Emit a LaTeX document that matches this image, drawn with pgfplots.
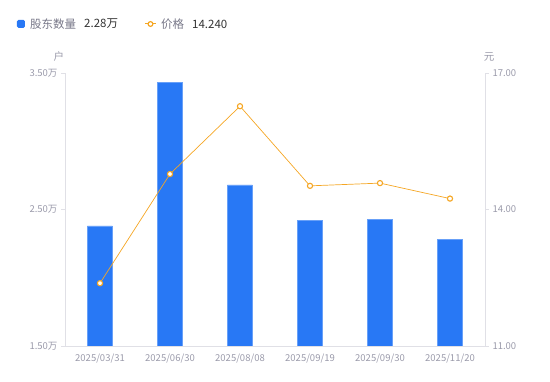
\documentclass[border=0pt]{standalone}
\usepackage{fontspec}
\setmainfont{Noto Sans CJK SC}
\usepackage{pgfplots}
\pgfplotsset{compat=1.18}
\definecolor{barblue}{HTML}{2878F5}
\definecolor{lineorange}{HTML}{F5A623}
\definecolor{ticktext}{HTML}{9A9AAA}
\definecolor{axisgray}{HTML}{E0E0E6}
\definecolor{legtext}{HTML}{777788}
\definecolor{valtext}{HTML}{333333}
\begin{document}
\begin{tikzpicture}[x=1pt,y=1pt]
\pgfplotsset{
  common/.style={
    scale only axis, width=420pt, height=273pt,
    xmin=-0.5, xmax=5.5,
    tick align=outside, major tick length=4pt,
    tick style={axisgray, line width=0.6pt},
    axis line style={axisgray, line width=0.8pt},
    ticklabel style={font=\fontsize{9.5}{11}\selectfont, text=ticktext},
    /pgf/number format/assume math mode=true,
  }
}
\begin{axis}[common,
  ymin=1.5, ymax=3.5, ytick={1.5,2.5,3.5},
  axis y line*=left, axis x line*=bottom,
  xtick={0,...,5},
  xticklabels={2025/03/31,2025/06/30,2025/08/08,2025/09/19,2025/09/30,2025/11/20},
  xtick style={draw=none},
  yticklabel={\pgfmathprintnumber[fixed,fixed zerofill,precision=2]{\tick}万},
  ybar, bar width=25pt,
]
\addplot[fill=barblue, draw=barblue!70!white, line width=0.4pt] coordinates {
(0,2.38) (1,3.43) (2,2.68) (3,2.42) (4,2.43) (5,2.28)};
\coordinate (O) at (rel axis cs:0,0);
\end{axis}
\begin{axis}[common,
  ymin=11, ymax=17, ytick={11,14,17},
  axis y line*=right, axis x line=none,
  yticklabel={\pgfmathprintnumber[fixed,fixed zerofill,precision=2]{\tick}},
]
\addplot[lineorange, line width=0.7pt, mark=*, mark size=2.6pt,
  mark options={fill=white, draw=lineorange, line width=1.1pt}] coordinates {
(0,12.38) (1,14.78) (2,16.27) (3,14.52) (4,14.58) (5,14.24)};
\end{axis}
\begin{scope}[shift={(O)}, shift={(-65,-35)}]
\path (0,0) rectangle (550,381);
% units
\node[text=ticktext, font=\fontsize{10.5}{12}\selectfont] at (59,324) {户};
\node[text=ticktext, font=\fontsize{10.5}{12}\selectfont] at (489,324) {元};
% legend
\fill[barblue, rounded corners=1.5pt] (17,353) rectangle (25,361);
\node[anchor=west, text=legtext, font=\fontsize{11.5}{13}\selectfont, inner sep=0] at (30,357) {股东数量};
\node[anchor=west, text=valtext, font=\fontsize{11.5}{13}\selectfont, inner sep=0] at (84,357) {2.28万};
\draw[lineorange, line width=1pt] (145,357) -- (156,357);
\draw[lineorange, fill=white, line width=1.2pt] (150.5,357) circle (2.4);
\node[anchor=west, text=legtext, font=\fontsize{11.5}{13}\selectfont, inner sep=0] at (161,357) {价格};
\node[anchor=west, text=valtext, font=\fontsize{11.5}{13}\selectfont, inner sep=0] at (192,357) {14.240};
\end{scope}
\end{tikzpicture}
\end{document}
